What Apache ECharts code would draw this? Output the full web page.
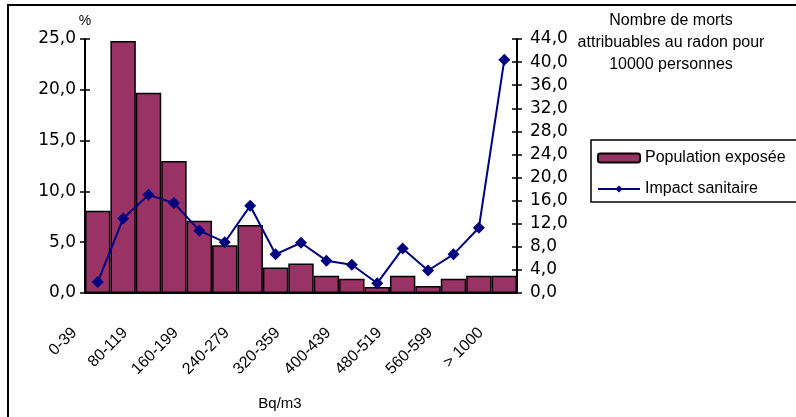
<!DOCTYPE html>
<html>
<head>
<meta charset="utf-8">
<script src="https://cdn.jsdelivr.net/npm/echarts@6/dist/echarts.min.js"></script>
<style>
  html, body { margin: 0; padding: 0; background: #fff; }
  #chart { width: 796px; height: 417px; }
</style>
</head>
<body>
<div id="chart"></div>
<script>
// tranches de concentration (Bq/m3)
var categories = ['0-39', '40-79', '80-119', '120-159', '160-199', '200-239', '240-279', '280-319',
  '320-359', '360-399', '400-439', '440-479', '480-519', '520-559', '560-599', '600-1000', '> 1000'];
// population exposée (%)
var population = [8.1, 24.8, 19.7, 13.0, 7.1, 4.7, 6.7, 2.5, 2.9, 1.7, 1.4, 0.6, 1.7, 0.7, 1.4, 1.7, 1.7];
// impact sanitaire (morts pour 10000 personnes)
var impact = [1.9, 12.9, 17.0, 15.6, 10.8, 8.8, 15.1, 6.7, 8.7, 5.6, 4.9, 1.7, 7.7, 3.9, 6.7, 11.3, 40.4];

var FONT = 'Liberation Sans, Arial, sans-serif';
var fmt = function (v) { return v.toFixed(1).replace('.', ','); };

var chart = echarts.init(document.getElementById('chart'));

function yAx(pos, max, step, inside) {
  return {
    type: 'value',
    position: pos,
    min: 0,
    max: max,
    interval: step,
    splitLine: { show: false },
    axisLine: { show: !inside, lineStyle: { color: '#000', width: 2 } },
    axisTick: { show: true, inside: inside, length: 5, lineStyle: { color: '#000', width: 1.5 } },
    axisLabel: {
      show: !inside,
      formatter: fmt,
      color: '#000',
      fontFamily: 'DejaVu Sans, sans-serif',
      fontSize: 17,
      margin: pos == 'left' ? 9 : 13
    }
  };
}

var yLeft = yAx('left', 25, 5, false);
yLeft.name = '%';
yLeft.nameGap = 11;
yLeft.nameTextStyle = { color: '#000', fontFamily: FONT, fontSize: 14 };

chart.setOption({
  backgroundColor: '#fff',
  animation: false,
  grid: { left: 85, right: 279, top: 39, bottom: 124 },
  legend: {
    orient: 'vertical',
    left: 591,
    top: 140,
    padding: [10, 20, 5, 6],
    itemGap: 15,
    itemWidth: 42,
    itemHeight: 9,
    borderColor: '#000',
    borderWidth: 1.5,
    textStyle: { color: '#000', fontFamily: FONT, fontSize: 16 },
    data: ['Population exposée', 'Impact sanitaire']
  },
  graphic: [
    {
      type: 'rect',
      shape: { x: 8, y: 5, width: 900, height: 500 },
      style: { fill: 'none', stroke: '#000', lineWidth: 2 },
      silent: true
    },
    {
      type: 'text',
      x: 671, y: 10,
      style: {
        text: 'Nombre de morts\nattribuables au radon pour\n10000 personnes',
        textAlign: 'center',
        fill: '#000',
        font: '16px ' + FONT,
        lineHeight: 22
      }
    },
    {
      type: 'text',
      x: 280, y: 396,
      style: { text: 'Bq/m3', textAlign: 'center', fill: '#000', font: '15px ' + FONT }
    }
  ],
  xAxis: {
    type: 'category',
    data: categories,
    boundaryGap: true,
    axisLine: { lineStyle: { color: '#000', width: 2 } },
    axisTick: { interval: 0, length: 6, lineStyle: { color: '#000', width: 1.5 } },
    axisLabel: {
      interval: 1,
      rotate: 45,
      margin: 14,
      padding: [0, 33, 0, 0],
      color: '#000',
      fontFamily: FONT,
      fontSize: 16
    }
  },
  yAxis: [
    yLeft,
    yAx('right', 44, 4, false),
    yAx('left', 25, 5, true),
    yAx('right', 44, 4, true)
  ],
  series: [
    {
      name: 'Population exposée',
      type: 'bar',
      data: population,
      barCategoryGap: '0%',
      itemStyle: { color: '#993366', borderColor: '#000', borderWidth: 1.5 },
      z: 2
    },
    {
      name: 'Impact sanitaire',
      type: 'line',
      yAxisIndex: 1,
      data: impact,
      symbol: 'diamond',
      symbolSize: 12,
      lineStyle: { color: '#000080', width: 2 },
      itemStyle: { color: '#000080' },
      z: 3
    }
  ]
});
</script>
</body>
</html>
